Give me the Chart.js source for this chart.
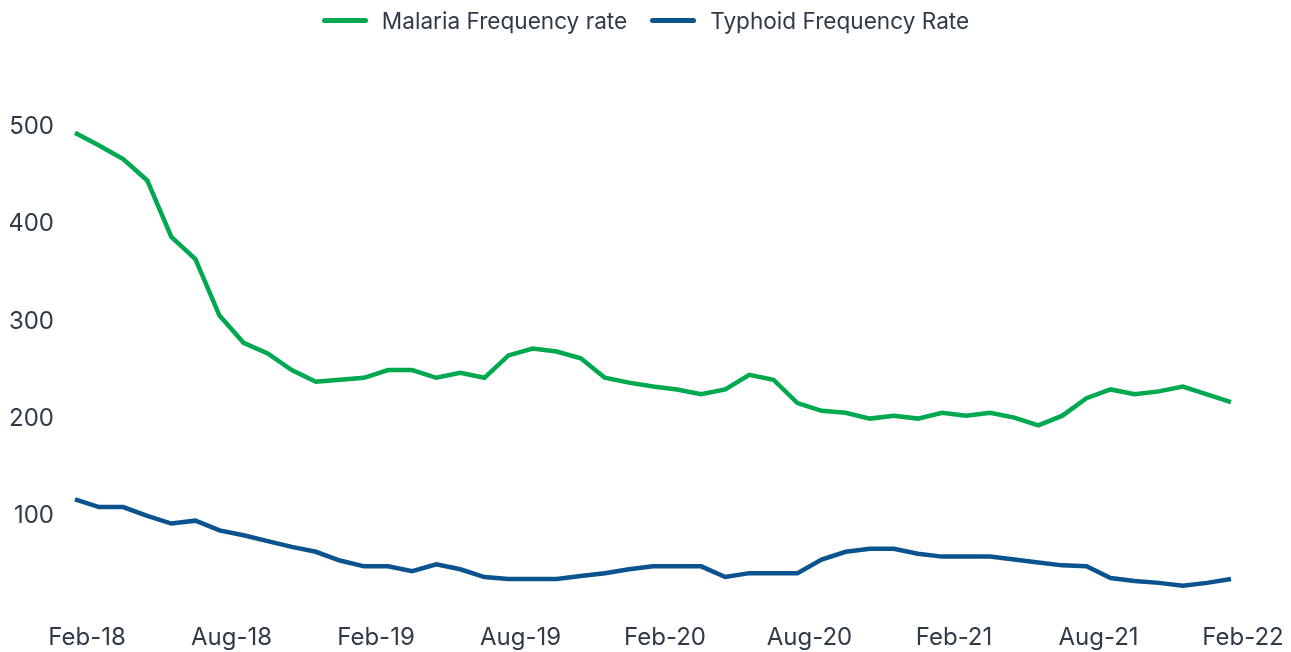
<!DOCTYPE html>
<html>
<head>
<meta charset="utf-8">
<script src="https://cdn.jsdelivr.net/npm/chart.js@4.4.1/dist/chart.umd.min.js"></script>
<style>
    body { margin: 0; background: #ffffff; font-family: "Inter", sans-serif; }
    .wrap { position: relative; width: 1291px; height: 652px; }
    .legend { position: absolute; top: 7px; left: 0; width: 1291px; display: flex; justify-content: center; gap: 23px; color: #2f3b47; font-size: 22.6px; }
    .legend span { display: flex; align-items: center; }
    .legend i { display: inline-block; width: 46px; height: 5px; border-radius: 3px; margin-right: 14px; }
    canvas { display: block; }
</style>
</head>
<body>
<div class="wrap">
    <div class="legend">
        <span><i style="background:#00a84f"></i>Malaria Frequency rate</span>
        <span><i style="background:#0b538f"></i>Typhoid Frequency Rate</span>
    </div>
    <canvas id="trend" width="1291" height="652"></canvas>
</div>
<script>
    // monthly figures, Feb-18 .. Feb-22
    const bulan = [
        "Feb-18","Mar-18","Apr-18","May-18","Jun-18","Jul-18","Aug-18","Sep-18","Oct-18","Nov-18","Dec-18","Jan-19",
        "Feb-19","Mar-19","Apr-19","May-19","Jun-19","Jul-19","Aug-19","Sep-19","Oct-19","Nov-19","Dec-19","Jan-20",
        "Feb-20","Mar-20","Apr-20","May-20","Jun-20","Jul-20","Aug-20","Sep-20","Oct-20","Nov-20","Dec-20","Jan-21",
        "Feb-21","Mar-21","Apr-21","May-21","Jun-21","Jul-21","Aug-21","Sep-21","Oct-21","Nov-21","Dec-21","Jan-22",
        "Feb-22"
    ];
    const malaria = [
        494,481,467,445,387,364,306,278,267,250,238,240,
        242,250,250,242,247,242,265,272,269,262,242,237,
        233,230,225,230,245,240,216,208,206,200,203,200,
        206,203,206,201,193,203,221,230,225,228,233,225,
        217
    ];
    const tifoid = [
        117,109,109,100,92,95,85,80,74,68,63,54,
        48,48,43,50,45,37,35,35,35,38,41,45,
        48,48,48,37,41,41,41,55,63,66,66,61,
        58,58,58,55,52,49,48,36,33,31,28,31,
        35
    ];

    const teks = "#2f3b47";

    var ctx = document.getElementById("trend").getContext("2d");
    var grafik = new Chart(ctx, {
        type: "line",
        data: {
            labels: bulan,
            datasets: [{
                label: "Malaria Frequency rate",
                data: malaria,
                borderColor: "#00a84f",
                backgroundColor: "#00a84f",
                borderWidth: 4.5,
                pointRadius: 0,
                tension: 0
            },
            {
                label: "Typhoid Frequency Rate",
                data: tifoid,
                borderColor: "#0b538f",
                backgroundColor: "#0b538f",
                borderWidth: 4.5,
                pointRadius: 0,
                tension: 0
            }]
        },
        options: {
            responsive: false,
            animation: false,
            layout: { padding: { top: 127, left: 10, right: 60, bottom: 0 } },
            plugins: {
                legend: { display: false },
                tooltip: { enabled: false }
            },
            scales: {
                x: {
                    grid: { display: false, drawTicks: false },
                    border: { display: false },
                    afterFit: function (s) { s.height = 39; },
                    ticks: {
                        color: teks,
                        font: { family: "Inter", size: 24 },
                        autoSkip: false,
                        maxRotation: 0,
                        padding: 10,
                        labelOffset: 12,
                        callback: function (v, i) {
                            return i % 6 === 0 ? bulan[i] : "";
                        }
                    }
                },
                y: {
                    min: 0,
                    max: 500,
                    grid: { display: false, drawTicks: false },
                    border: { display: false },
                    afterFit: function (s) {
                        s.width = 65;
                        s.paddingTop = 0;
                        s.paddingBottom = 0;
                    },
                    ticks: {
                        stepSize: 100,
                        color: teks,
                        font: { family: "Inter", size: 24 },
                        padding: 21,
                        callback: function (v) { return v === 0 ? "" : v; }
                    }
                }
            }
        }
    });
</script>
</body>
</html>
